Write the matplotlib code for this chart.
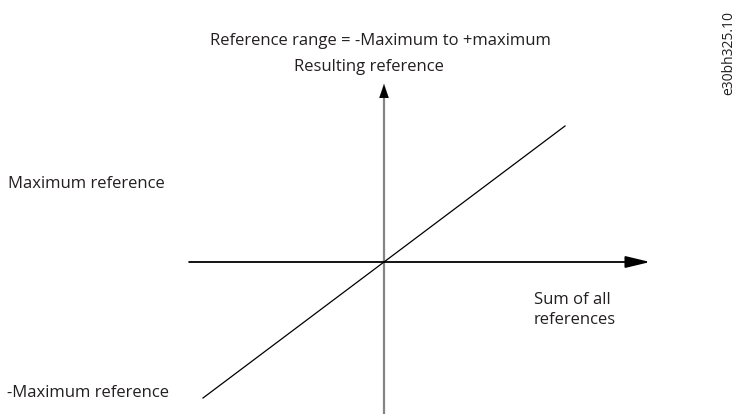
import matplotlib
matplotlib.use("Agg")
import matplotlib.pyplot as plt

# curve: resulting reference follows the sum of all references (-max .. +max)
sum_of_refs = [-1.0, 1.0]
resulting_ref = [-1.0, 1.0]

# axis extents in the same units
x_axis = [-1.077, 1.47]
y_axis = [-1.12, 1.31]

labels = {
    "title": "Reference range = -Maximum to +maximum",
    "y": "Resulting reference",
    "x": "Sum of all\nreferences",
    "max": "Maximum reference",
    "min": "-Maximum reference",
    "code": "e30bh325.10",
}

W, H = 739, 417
ox, oy = 384, 262      # origin in pixels
sx, sy = 181, 136      # pixels per unit

plt.rcParams['font.family'] = ['Open Sans', 'DejaVu Sans']
fig = plt.figure(figsize=(W / 100, H / 100), dpi=100)
ax = fig.add_axes([0, 0, 1, 1])
ax.set_xlim(-ox / sx, (W - ox) / sx)
ax.set_ylim(-(H - oy) / sy, oy / sy)
ax.axis('off')

# horizontal axis with arrow
ax.annotate('', xy=(x_axis[1], 0), xytext=(x_axis[0], 0),
            arrowprops=dict(arrowstyle='-|>,head_length=1.5,head_width=0.36',
                            mutation_scale=10, color='black', lw=1.3,
                            shrinkA=0, shrinkB=0))

# vertical axis: grey shaft, black head
head_len = 14 / sy
ax.plot([0, 0], [y_axis[0], y_axis[1] - head_len], color='#858585', lw=1.6,
        solid_capstyle='butt')
ax.annotate('', xy=(0, y_axis[1]), xytext=(0, y_axis[1] - head_len),
            arrowprops=dict(arrowstyle='-|>,head_length=1.0,head_width=0.34',
                            mutation_scale=10, color='black', lw=0.1,
                            shrinkA=0, shrinkB=0))

# reference line
ax.plot(sum_of_refs, resulting_ref, color='black', lw=0.9)


def px(x, y):
    return x / W, 1 - y / H


tc = '#231f20'
fs = 12
fig.text(*px(380, 41), labels["title"], ha='center', va='center', fontsize=fs, color=tc)
fig.text(*px(369, 67), labels["y"], ha='center', va='center', fontsize=fs, color=tc)
fig.text(*px(534, 310), labels["x"], ha='left', va='center', fontsize=fs, color=tc,
         linespacing=1.25)
fig.text(*px(8, 184), labels["max"], ha='left', va='center', fontsize=fs, color=tc)
fig.text(*px(7, 393), labels["min"], ha='left', va='center', fontsize=fs, color=tc)
fig.text(*px(729, 53), labels["code"], ha='center', va='center', fontsize=10,
         color=tc, rotation=90)

fig.savefig('out.png', dpi=100)
